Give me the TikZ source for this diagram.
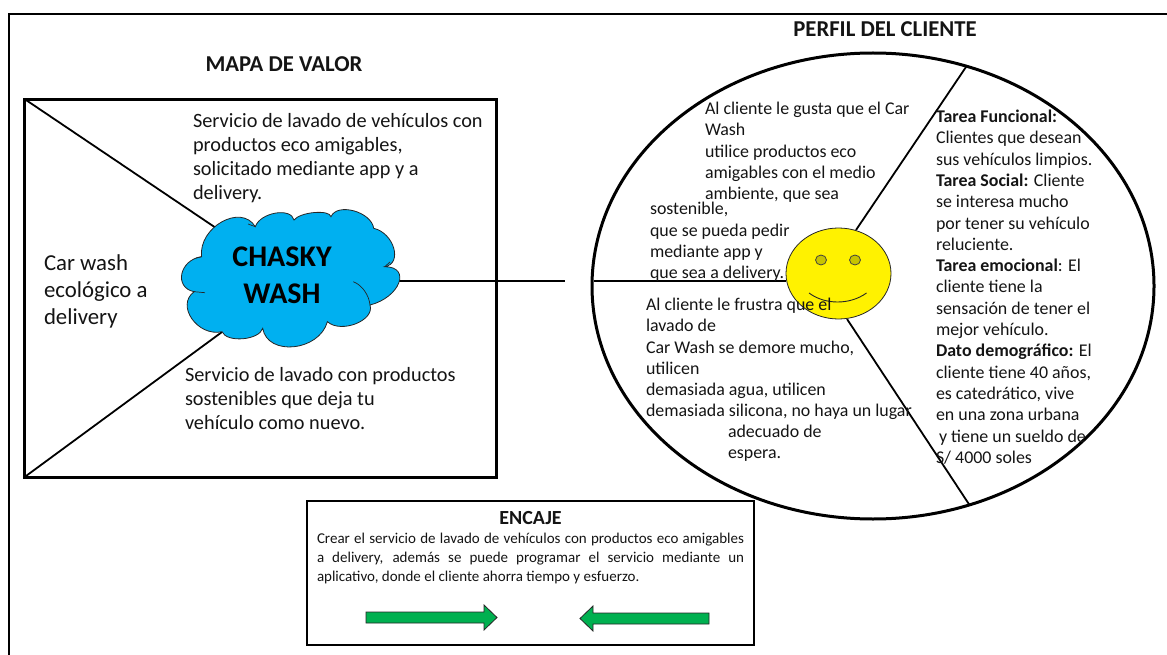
\documentclass[tikz,border=0pt]{standalone}
\usepackage{fontspec}
\setmainfont{Carlito}
\usetikzlibrary{calc,shapes.geometric}
\definecolor{cloudblue}{HTML}{00B0F0}
\definecolor{arrowgreen}{HTML}{00B050}
\definecolor{ink}{HTML}{141414}
\definecolor{eyefill}{HTML}{C8C400}
\newcommand\lobe[3]{.. controls ($1.333*(#2)+0.233*(#1)-0.567*(#3)$) and ($1.333*(#2)-0.567*(#1)+0.233*(#3)$) .. (#3)}
\tikzset{
  x=1pt,y=-1pt,
  txt/.style={inner sep=0pt,outer sep=0pt,anchor=north west,align=left,text=ink},
  big/.style={txt,font=\fontsize{20.3}{24.2}\selectfont},
  mid/.style={txt,font=\fontsize{17.9}{21.3}\selectfont},
  title/.style={inner sep=0pt,text=ink,font=\fontsize{22.7}{26}\selectfont\bfseries},
  frame/.style={draw=black,line width=2.4pt},
  heavy/.style={draw=black,line width=3pt},
  spoke/.style={draw=black,line width=1.8pt},
  thin line/.style={draw=black!85,line width=0.7pt},
  fatarrow/.style={draw=black!85,fill=arrowgreen,line width=0.8pt},
  eye/.style={ellipse,draw=black!75,fill=eyefill,line width=0.8pt,minimum width=11pt,minimum height=10pt,inner sep=0pt}
}
\begin{document}
\begin{tikzpicture}
\useasboundingbox (0,0) rectangle (1167,655);
% outer frame
\coordinate (fa) at (9,655);
\coordinate (fb) at (9,14);
\coordinate (fc) at (1167,14);
\draw[frame] (fa) -- (fb) -- (fc);
% titles
\node[title] (mapa) at (284,64) {MAPA DE VALOR};
\node[title] (perfil) at (885,29) {PERFIL DEL CLIENTE};
% value box
\node[heavy,minimum width=472pt,minimum height=378pt,inner sep=0pt] (box) at (260.5,288.5) {};
\coordinate (boxtl) at (26,100);
\coordinate (boxbl) at (26,476);
\coordinate (cloudtl) at (216,228);
\coordinate (cloudbl) at (222,332);
\coordinate (cloudr) at (399,281);
\coordinate (free) at (565,281);
\draw[spoke] (boxtl) -- (cloudtl);
\draw[spoke] (boxbl) -- (cloudbl);
\draw[spoke] (cloudr) -- (free);
% cloud
\coordinate (v1) at (201.6,256.7);
\coordinate (p1) at (222,222);
\coordinate (v2) at (255.3,226.7);
\coordinate (p2) at (275.6,213.3);
\coordinate (v3) at (294,220);
\coordinate (p3) at (314.5,212.7);
\coordinate (v4) at (331,216.7);
\coordinate (p4) at (354,211);
\coordinate (v5) at (373.7,228.3);
\coordinate (p5) at (394,248.3);
\coordinate (v6) at (384.8,266.7);
\coordinate (p6) at (399,283.3);
\coordinate (v7) at (370,305);
\coordinate (p7) at (356,324);
\coordinate (v8) at (327.4,321.7);
\coordinate (p8) at (294,347);
\coordinate (v9) at (262.7,328.3);
\coordinate (p9) at (243,339);
\coordinate (v10) at (222,331.7);
\coordinate (p10) at (192,319);
\coordinate (v11) at (194.2,291.7);
\coordinate (p11) at (182,274);
\path[draw=black!85,fill=cloudblue,line width=0.8pt]
  (v1) \lobe{v1}{p1}{v2} \lobe{v2}{p2}{v3} \lobe{v3}{p3}{v4} \lobe{v4}{p4}{v5}
  \lobe{v5}{p5}{v6} \lobe{v6}{p6}{v7} \lobe{v7}{p7}{v8} \lobe{v8}{p8}{v9}
  \lobe{v9}{p9}{v10} \lobe{v10}{p10}{v11} \lobe{v11}{p11}{v1} -- cycle;
\coordinate (i1) at (353.3,281.7);
\coordinate (i2) at (205,292.7);
\coordinate (i3) at (390,262);
\coordinate (i4) at (248,224);
\coordinate (i5) at (196,258);
\draw[thin line] (i1) .. controls (362,285) and (369,295) .. (v7);
\draw[thin line] (v11) -- (i2);
\draw[thin line] (v6) -- (i3);
\draw[thin line] (v2) -- (i4);
\draw[thin line] (v1) -- (i5);
\node[inner sep=0pt,align=center,text=black,font=\fontsize{30}{36.5}\selectfont\bfseries] (chasky) at (282,275.5) {CHASKY\\WASH};
% value box texts
\node[big] (t1) at (193,113) {Servicio de lavado de vehículos con\\productos eco amigables,\\solicitado mediante app y a\\delivery.};
\node[txt,font=\fontsize{22.8}{27}\selectfont] (t2) at (44,255) {Car wash\\ecológico a\\delivery};
\node[big] (t3) at (185,367) {Servicio de lavado con productos\\sostenibles que deja tu\\vehículo como nuevo.};
% customer profile
\node[heavy,ellipse,minimum width=562pt,minimum height=466pt,inner sep=0pt] (circle) at (873,286) {};
\coordinate (s1) at (966,67);
\coordinate (s2) at (856,230);
\coordinate (s3) at (594,281);
\coordinate (s4) at (786,281);
\coordinate (s5) at (847,319);
\coordinate (s6) at (969.5,505);
\draw[spoke] (s1) -- (s2);
\draw[spoke] (s3) -- (s4);
\draw[spoke] (s5) -- (s6);
% smiley
\node[ellipse,draw=black!85,fill=yellow,line width=0.8pt,minimum width=105pt,minimum height=91pt,inner sep=0pt] (face) at (838.5,273.5) {};
\node[eye] (eyeL) at (821,260) {};
\node[eye] (eyeR) at (855,260) {};
\coordinate (smileL) at (809,293);
\coordinate (smileR) at (866.5,293);
\draw[line width=0.9pt,draw=black!85] (smileL) .. controls (825,305) and (850,305) .. (smileR);
% profile texts
\node[mid] (g1) at (705,102) {Al cliente le gusta que el Car\\Wash\\utilice productos eco\\amigables con el medio\\ambiente, que sea};
\node[mid] (g2) at (650,202.5) {sostenible,\\que se pueda pedir\\mediante app y\\que sea a delivery.};
\node[mid] (f1) at (646,298) {Al cliente le frustra que el\\lavado de\\Car Wash se demore mucho,\\utilicen\\demasiada agua, utilicen\\demasiada silicona, no haya un lugar};
\node[mid] (f2) at (728,425) {adecuado de\\espera.};
\node[mid] (tareas) at (936,110) {\textbf{Tarea Funcional:}\\Clientes que desean\\sus vehículos limpios.\\\textbf{Tarea Social:} Cliente\\se interesa mucho\\por tener su vehículo\\reluciente.\\\textbf{Tarea emocional}: El\\cliente tiene la\\sensación de tener el\\mejor vehículo.\\\textbf{Dato demográfico:} El\\cliente tiene 40 años,\\es catedrático, vive\\en una zona urbana\\\hspace*{3pt}y tiene un sueldo de\\S/ 4000 soles};
% encaje
\node[draw=black,line width=1.8pt,fill=white,minimum width=447pt,minimum height=144pt,inner sep=0pt] (encaje) at (530.5,573) {};
\node[inner sep=0pt,text=ink,font=\fontsize{20}{24}\selectfont\bfseries] (enc) at (530.5,518) {ENCAJE};
\node[txt,text width=427pt,align=justify,font=\fontsize{15}{18.6}\selectfont] (enctxt) at (317,533.5) {Crear el servicio de lavado de vehículos con productos eco amigables\linebreak a delivery, además se puede programar el servicio mediante un\linebreak aplicativo, donde el cliente ahorra tiempo y esfuerzo.};
\path[fatarrow] (366,612) -- (484,612) -- (484,605) -- (497,617.5) -- (484,630) -- (484,623) -- (366,623) -- cycle;
\path[fatarrow] (709,613) -- (593,613) -- (593,606) -- (580,618.5) -- (593,631) -- (593,624) -- (709,624) -- cycle;
\end{tikzpicture}
\end{document}
